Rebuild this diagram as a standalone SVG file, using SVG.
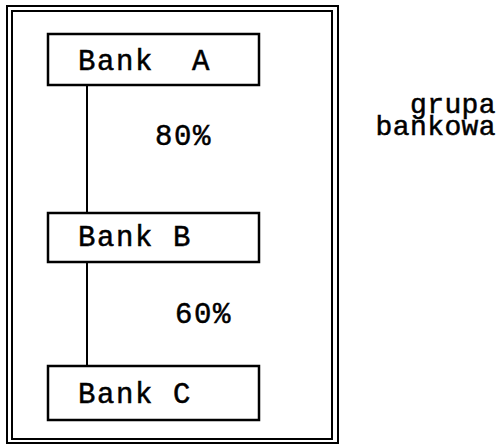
<svg xmlns="http://www.w3.org/2000/svg" width="500" height="445" viewBox="0 0 500 445">
  <style>
    .frame { fill: none; stroke: #000; stroke-width: 2; }
    .box { fill: #fff; stroke: #000; stroke-width: 2.5; }
    .link { fill: none; stroke: #000; stroke-width: 2; }
    .lbl { font-family: "Liberation Mono", "DejaVu Sans Mono", monospace; font-size: 29px; letter-spacing: 1.6px; fill: #000; stroke: #000; stroke-width: 0.5; }
    .side { font-size: 28px; letter-spacing: 0.4px; }
  </style>
  <rect width="500" height="445" fill="#fff"/>

  <!-- double frame around the group -->
  <g id="group-frame">
    <rect class="frame" x="7" y="6" width="331" height="437"/>
    <rect class="frame" x="12" y="11" width="320" height="428"/>
  </g>

  <g id="connectors">
    <line class="link" x1="87" y1="85" x2="87" y2="213"/>
    <line class="link" x1="87" y1="262" x2="87" y2="366"/>
    <text class="lbl" x="155" y="145">80%</text>
    <text class="lbl" x="175" y="323">60%</text>
  </g>

  <g id="bank-a">
    <rect class="box" x="48" y="34" width="211" height="51"/>
    <text class="lbl" x="78" y="70" xml:space="preserve">Bank  A</text>
  </g>

  <g id="bank-b">
    <rect class="box" x="48" y="213" width="211" height="49"/>
    <text class="lbl" x="78" y="246">Bank B</text>
  </g>

  <g id="bank-c">
    <rect class="box" x="48" y="366" width="211" height="54"/>
    <text class="lbl" x="78" y="403">Bank C</text>
  </g>

  <g id="group-label">
    <text class="lbl side" x="496" y="113" text-anchor="end">grupa</text>
    <text class="lbl side" x="496" y="135" text-anchor="end">bankowa</text>
  </g>
</svg>
